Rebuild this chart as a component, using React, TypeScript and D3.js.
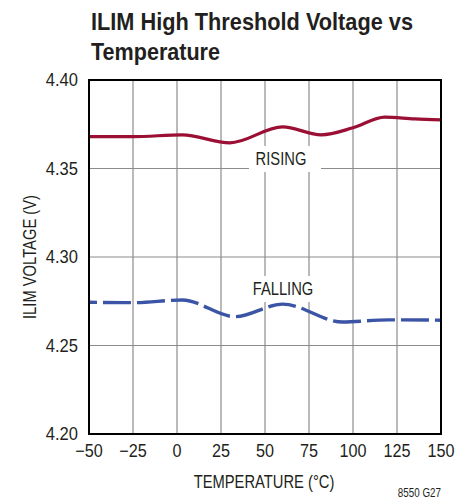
import { useMemo } from "react";
import * as d3 from "d3";

// series (temperature °C, volts)
const risingTemps = [-50, -25, 3, 30, 60, 82, 100, 118, 135, 150];
const risingVolts = [4.368, 4.368, 4.369, 4.3645, 4.3735, 4.369, 4.373, 4.379, 4.378, 4.3775];
const fallingTemps = [-50, -25, 3, 33, 60, 94, 120, 150];
const fallingVolts = [4.2744, 4.2742, 4.2757, 4.2663, 4.2734, 4.2633, 4.2645, 4.2643];

const xTickValues = [-50, -25, 0, 25, 50, 75, 100, 125, 150];
const yTickValues = [4.2, 4.25, 4.3, 4.35, 4.4];

const FONT = "'Liberation Sans', Arial, Helvetica, sans-serif";
const INK = "#231f20";
const RED = "#9a0f33";
const BLUE = "#3b54a5";

type Pt = { t: number; v: number };

// condensed text: no narrow face installed, so squeeze horizontally
function CText({ x, y, sx = 0.82, anchor = "start", size = 18, weight = "normal", children }: {
    x: number; y: number; sx?: number; anchor?: string; size?: number; weight?: string; children: React.ReactNode;
}) {
    return (
        <g transform={`translate(${x},${y}) scale(${sx},1)`}>
            <text x={0} y={0} fontSize={size} fontWeight={weight} textAnchor={anchor} fill={INK}>{children}</text>
        </g>
    );
}

export default function App() {
    const width = 471;
    const height = 500;
    const left = 89, right = 441, top = 80, bottom = 434;

    const x = useMemo(() => d3.scaleLinear().domain([-50, 150]).range([left, right]), []);
    const y = useMemo(() => d3.scaleLinear().domain([4.2, 4.4]).range([bottom, top]), []);

    const line = d3.line<Pt>().x((d) => x(d.t)).y((d) => y(d.v)).curve(d3.curveMonotoneX);
    const rising = risingTemps.map((t, i) => ({ t, v: risingVolts[i] }));
    const falling = fallingTemps.map((t, i) => ({ t, v: fallingVolts[i] }));

    const fmtY = d3.format(".2f");
    const fmtX = (v: number) => (v < 0 ? `\u2212${Math.abs(v)}` : `${v}`);

    return (
        <svg width={width} height={height} style={{ position: "absolute", left: 0, top: 0 }} fontFamily={FONT}>
            <rect width={width} height={height} fill="#fff" />

            {/* title */}
            <text x={91} y={30} fontSize={24} fontWeight="bold" fill={INK} textLength={322} lengthAdjust="spacingAndGlyphs">ILIM High Threshold Voltage vs</text>
            <text x={91} y={60} fontSize={24} fontWeight="bold" fill={INK} textLength={129} lengthAdjust="spacingAndGlyphs">Temperature</text>

            {/* grid */}
            <g stroke="#8c8c8c" strokeWidth={1.2}>
                {xTickValues.slice(1, -1).map((v) => (
                    <line key={`gx${v}`} x1={x(v)} x2={x(v)} y1={top} y2={bottom} />
                ))}
                {yTickValues.slice(1, -1).map((v) => (
                    <line key={`gy${v}`} x1={left} x2={right} y1={y(v)} y2={y(v)} />
                ))}
            </g>

            {/* label knock-outs */}
            <rect x={249} y={146} width={72} height={26} fill="#fff" />
            <rect x={246} y={276} width={76} height={26} fill="#fff" />

            {/* curves */}
            <path d={line(rising) ?? ""} fill="none" stroke={RED} strokeWidth={3.2} />
            <path d={line(falling) ?? ""} fill="none" stroke={BLUE} strokeWidth={3.4} strokeDasharray="28 6" strokeDashoffset={20} />

            <CText x={281} y={165} anchor="middle">RISING</CText>
            <CText x={283} y={295} anchor="middle">FALLING</CText>

            {/* frame */}
            <rect x={left} y={top} width={right - left} height={bottom - top} fill="none" stroke="#000" strokeWidth={2} />

            {/* tick labels */}
            {yTickValues.map((v) => (
                <CText key={`yl${v}`} x={78} y={y(v) + 6} sx={0.92} anchor="end">{fmtY(v)}</CText>
            ))}
            {xTickValues.map((v) => (
                <CText key={`xl${v}`} x={x(v)} y={457} sx={0.9} anchor="middle">{fmtX(v)}</CText>
            ))}

            {/* axis titles */}
            <CText x={264} y={488} anchor="middle">TEMPERATURE (°C)</CText>
            <g transform="translate(36,257) rotate(-90)">
                <CText x={0} y={0} anchor="middle">ILIM VOLTAGE (V)</CText>
            </g>

            <CText x={441} y={497} size={12} anchor="end">8550 G27</CText>
        </svg>
    );
}
